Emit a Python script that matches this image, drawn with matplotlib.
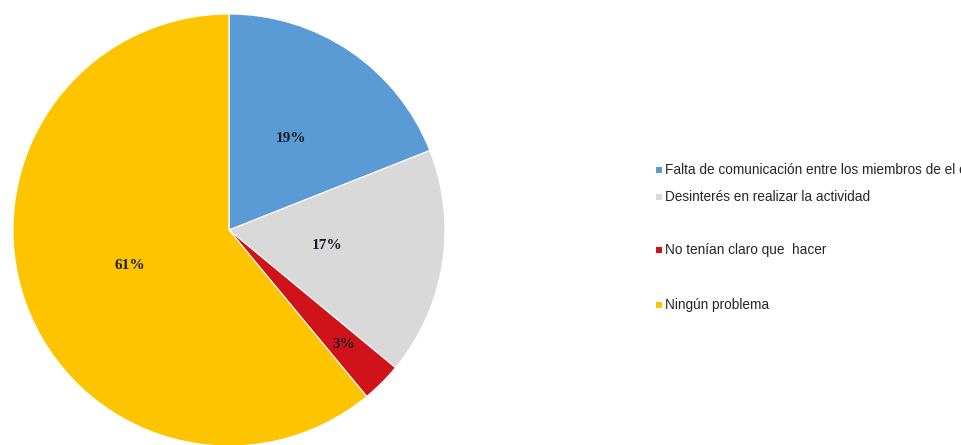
import numpy as np
import matplotlib
matplotlib.use("Agg")
import matplotlib.pyplot as plt
from matplotlib.patches import Rectangle

# === Data ===
categories = [
    "Falta de comunicación entre los miembros de el equipo",
    "Desinterés en realizar la actividad",
    "No tenían claro que  hacer",
    "Ningún problema",
]
values = [19, 17, 3, 61]
colors = ["#5B9BD5", "#D9D9D9", "#D0121B", "#FFC400"]

# label distance from center (fraction of radius) for each slice
label_dist = [0.51, 0.46, 0.75, 0.49]
# legend rows (figure pixels from top)
legend_rows = [170, 197, 250, 305]

W, H = 962, 445
fig = plt.figure(figsize=(W / 100, H / 100), dpi=100)

# === Pie ===
cx, cy, r = 229, 230, 216
ax = fig.add_axes([(cx - r) / W, (H - cy - r) / H, 2 * r / W, 2 * r / H])
wedges, _ = ax.pie(values, colors=colors, startangle=90, counterclock=False,
                   radius=1, wedgeprops=dict(edgecolor="white", linewidth=0.8))
ax.set_xlim(-1, 1)
ax.set_ylim(-1, 1)
ax.set_aspect("auto")
ax.axis("off")

for w, v, d in zip(wedges, values, label_dist):
    mid = np.deg2rad((w.theta1 + w.theta2) / 2)
    ax.text(d * np.cos(mid), d * np.sin(mid), f"{v}%", ha="center", va="center",
            fontsize=11, fontweight="bold", family="Liberation Serif", color="#1c1c28")

# === Legend (drawn by hand to keep the uneven spacing) ===
for cat, col, y in zip(categories, colors, legend_rows):
    fig.add_artist(Rectangle((656 / W, (H - y - 3) / H), 6 / W, 6 / H,
                             transform=fig.transFigure, facecolor=col, edgecolor="none"))
    fig.text(665 / W, (H - y) / H, cat, ha="left", va="center",
             fontsize=9.8, family="Liberation Sans", color="#262626")

fig.savefig("out.png", dpi=100)
